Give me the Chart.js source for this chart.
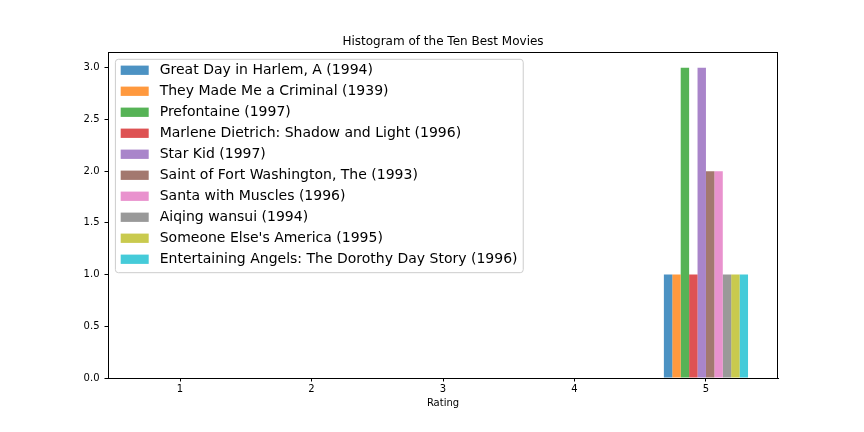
<!DOCTYPE html>
<html>
<head>
<meta charset="utf-8">
<script src="https://cdn.jsdelivr.net/npm/chart.js@4.4.1/dist/chart.umd.min.js"></script>
<style>
  html, body { margin: 0; padding: 0; background: #fff; }
  #wrap { width: 864px; height: 432px; }
</style>
</head>
<body>
<div id="wrap"><canvas id="c" width="864" height="432"></canvas></div>
<script>
// ---- data ----
const ratings = [1, 2, 3, 4, 5];
const movies = [
  "Great Day in Harlem, A (1994)",
  "They Made Me a Criminal (1939)",
  "Prefontaine (1997)",
  "Marlene Dietrich: Shadow and Light (1996)",
  "Star Kid (1997)",
  "Saint of Fort Washington, The (1993)",
  "Santa with Muscles (1996)",
  "Aiqing wansui (1994)",
  "Someone Else's America (1995)",
  "Entertaining Angels: The Dorothy Day Story (1996)"
];
const greatDay      = [0, 0, 0, 0, 1];
const theyMade      = [0, 0, 0, 0, 1];
const prefontaine   = [0, 0, 0, 0, 3];
const marlene       = [0, 0, 0, 0, 1];
const starKid       = [0, 0, 0, 0, 3];
const saintFort     = [0, 0, 0, 0, 2];
const santaMuscles  = [0, 0, 0, 0, 2];
const aiqing        = [0, 0, 0, 0, 1];
const someoneElse   = [0, 0, 0, 0, 1];
const entertaining  = [0, 0, 0, 0, 1];
const counts = [greatDay, theyMade, prefontaine, marlene, starKid, saintFort, santaMuscles, aiqing, someoneElse, entertaining];
const yTicks = [0, 0.5, 1.0, 1.5, 2.0, 2.5, 3.0];

// ---- styles ----
const colors = [
  [31,119,180],[255,127,14],[44,160,44],[214,39,40],[148,103,189],
  [140,86,75],[227,119,194],[127,127,127],[188,189,34],[23,190,207]
];
const FONT = '"DejaVu Sans", sans-serif';

const datasets = movies.map((m, i) => ({
  label: m,
  data: ratings.map((r, j) => ({ x: r, y: counts[i][j] })),
  backgroundColor: `rgba(${colors[i].join(',')},0.8)`,
  borderWidth: 0,
  categoryPercentage: 0.64,
  barPercentage: 1.0
}));

const frame = {
  id: 'frame',
  afterDatasetsDraw(chart) {
    const { ctx, chartArea: a } = chart;
    ctx.save();
    ctx.strokeStyle = '#000';
    ctx.lineWidth = 1;
    ctx.strokeRect(Math.round(a.left) + 0.5, Math.round(a.top) + 0.5,
                   Math.round(a.right - a.left) - 1, Math.round(a.bottom - a.top));
    ctx.restore();
  }
};

const legendBox = {
  id: 'legendBox',
  afterDraw(chart) {
    const { ctx, chartArea: a } = chart;
    const fs = 14;
    ctx.save();
    ctx.font = `${fs}px ${FONT}`;
    const ds = chart.data.datasets;
    const textW = Math.max(...ds.map(d => ctx.measureText(d.label).width));
    const padL = 5.3, handle = 28, gap = 11, padR = 5.7, row = 21;
    const x0 = a.left + 7.4, y0 = a.top + 7;
    const w = padL + handle + gap + textW + padR;
    const h = 10.7 + (ds.length - 1) * row + 13.7;
    const r = 3;
    ctx.beginPath();
    ctx.moveTo(x0 + r, y0);
    ctx.lineTo(x0 + w - r, y0);
    ctx.quadraticCurveTo(x0 + w, y0, x0 + w, y0 + r);
    ctx.lineTo(x0 + w, y0 + h - r);
    ctx.quadraticCurveTo(x0 + w, y0 + h, x0 + w - r, y0 + h);
    ctx.lineTo(x0 + r, y0 + h);
    ctx.quadraticCurveTo(x0, y0 + h, x0, y0 + h - r);
    ctx.lineTo(x0, y0 + r);
    ctx.quadraticCurveTo(x0, y0, x0 + r, y0);
    ctx.closePath();
    ctx.fillStyle = 'rgba(255,255,255,0.8)';
    ctx.fill();
    ctx.strokeStyle = '#cccccc';
    ctx.lineWidth = 1;
    ctx.stroke();
    ctx.textBaseline = 'middle';
    ctx.textAlign = 'left';
    ds.forEach((d, i) => {
      const cy = y0 + 10.7 + i * row;
      ctx.fillStyle = d.backgroundColor;
      ctx.fillRect(x0 + padL, cy - 4.4, handle, 9.3);
      ctx.fillStyle = '#000';
      ctx.fillText(d.label, x0 + padL + handle + gap, cy + 0.5);
    });
    ctx.restore();
  }
};

new Chart(document.getElementById('c'), {
  type: 'bar',
  data: { datasets },
  plugins: [frame, legendBox],
  options: {
    responsive: false,
    animation: false,
    devicePixelRatio: 1,
    layout: { padding: { left: 0, right: 86, top: 0, bottom: 0 } },
    plugins: {
      legend: { display: false },
      tooltip: { enabled: false },
      title: {
        display: true,
        fullSize: false,
        text: 'Histogram of the Ten Best Movies',
        color: '#000',
        font: { family: FONT, size: 12, weight: 'normal' },
        padding: { top: 34.8, bottom: 3.1 }
      }
    },
    scales: {
      x: {
        type: 'linear',
        offset: false,
        min: 0.452,
        max: 5.548,
        afterBuildTicks: s => { s.ticks = ratings.map(v => ({ value: v })); },
        afterFit: s => { s.height = 54; },
        ticks: {
          color: '#000',
          font: { family: FONT, size: 10 },
          padding: 2,
          maxRotation: 0,
          callback: v => String(v)
        },
        grid: { display: true, offset: false, drawOnChartArea: false, drawTicks: true, tickLength: 3.5, color: '#000' },
        border: { display: true, color: '#000', width: 1 },
        title: {
          display: true,
          text: 'Rating',
          color: '#000',
          font: { family: FONT, size: 10 },
          padding: { top: 0, bottom: 23 }
        }
      },
      y: {
        min: 0,
        max: 3.15,
        afterBuildTicks: s => { s.ticks = yTicks.map(v => ({ value: v })); },
        afterFit: s => { s.width = 108; },
        ticks: {
          color: '#000',
          font: { family: FONT, size: 10 },
          padding: 5,
          callback: v => Number(v).toFixed(1)
        },
        grid: { display: true, offset: false, drawOnChartArea: false, drawTicks: true, tickLength: 3.5, color: '#000' },
        border: { display: true, color: '#000', width: 1 }
      }
    }
  }
});
</script>
</body>
</html>
